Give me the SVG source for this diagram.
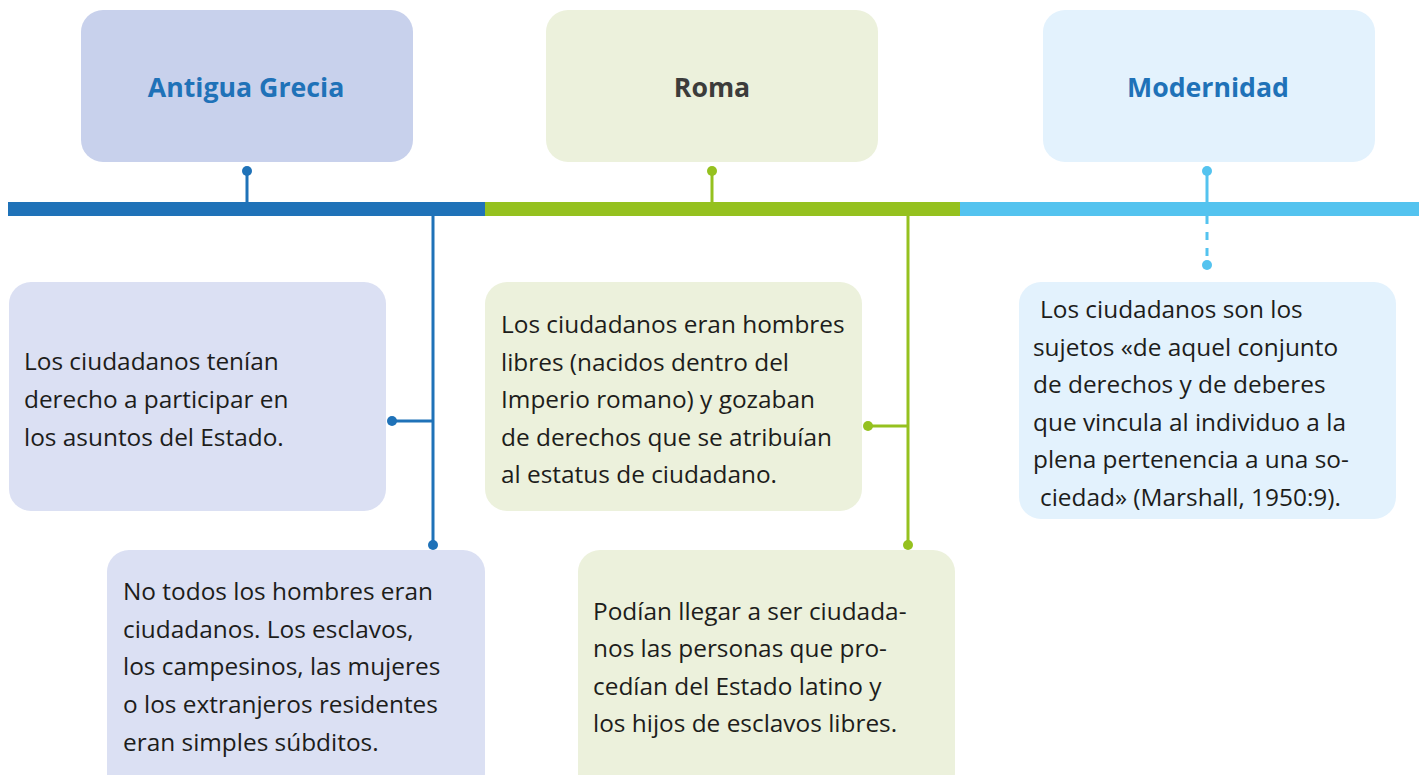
<svg xmlns="http://www.w3.org/2000/svg" width="1419" height="775" viewBox="0 0 1419 775">
<style>
.title{font-family:"Open Sans",Lato,sans-serif;font-weight:bold;font-size:26.7px;text-anchor:middle}
.body{font-family:"Open Sans",Lato,sans-serif;font-size:24.4px;fill:#1d1d1b}
.blue{fill:#1f72b8}
.dark{fill:#3c3c3b}
.cb{stroke:#1f72b8;stroke-width:3;fill:none}
.cg{stroke:#95c11f;stroke-width:3;fill:none}
.cl{stroke:#54c3ef;stroke-width:3;fill:none}
</style>
<rect width="1419" height="775" fill="#ffffff"/>
<g id="grecia">
<rect x="81" y="10" width="332" height="152" rx="22" fill="#c8d1ec"/>
<text class="title blue" x="246" y="97">Antigua Grecia</text>
</g>
<g id="roma">
<rect x="546" y="10" width="332" height="152" rx="22" fill="#ecf1dc"/>
<text class="title dark" x="712" y="97">Roma</text>
</g>
<g id="modernidad">
<rect x="1043" y="10" width="332" height="152" rx="22" fill="#e3f2fd"/>
<text class="title blue" x="1208" y="97">Modernidad</text>
</g>
<g id="timeline">
<rect x="8" y="202" width="477" height="14" fill="#1f72b8"/>
<rect x="485" y="202" width="475" height="14" fill="#95c11f"/>
<rect x="960" y="202" width="459" height="14" fill="#54c3ef"/>
</g>
<g id="grecia-1">
<rect x="9" y="282" width="377" height="229" rx="22" fill="#dbe0f3"/>
<text class="body" x="24" y="370">Los ciudadanos tenían</text>
<text class="body" x="24" y="408">derecho a participar en</text>
<text class="body" x="24" y="446">los asuntos del Estado.</text>
</g>
<g id="grecia-2">
<rect x="107" y="550" width="378" height="245" rx="22" fill="#dbe0f3"/>
<text class="body" x="123" y="600">No todos los hombres eran</text>
<text class="body" x="123" y="638">ciudadanos. Los esclavos,</text>
<text class="body" x="123" y="675">los campesinos, las mujeres</text>
<text class="body" x="123" y="713">o los extranjeros residentes</text>
<text class="body" x="123" y="751">eran simples súbditos.</text>
</g>
<g id="roma-1">
<rect x="485" y="282" width="377" height="229" rx="22" fill="#ecf1dc"/>
<text class="body" x="501" y="333">Los ciudadanos eran hombres</text>
<text class="body" x="501" y="371">libres (nacidos dentro del</text>
<text class="body" x="501" y="408">Imperio romano) y gozaban</text>
<text class="body" x="501" y="446">de derechos que se atribuían</text>
<text class="body" x="501" y="483">al estatus de ciudadano.</text>
</g>
<g id="roma-2">
<rect x="578" y="550" width="377" height="245" rx="22" fill="#ecf1dc"/>
<text class="body" x="593" y="620">Podían llegar a ser ciudada-</text>
<text class="body" x="593" y="657">nos las personas que pro-</text>
<text class="body" x="593" y="695">cedían del Estado latino y</text>
<text class="body" x="593" y="732">los hijos de esclavos libres.</text>
</g>
<g id="modernidad-1">
<rect x="1019" y="282" width="377" height="237" rx="22" fill="#e3f2fd"/>
<text class="body" x="1040" y="318">Los ciudadanos son los</text>
<text class="body" x="1033" y="356">sujetos «de aquel conjunto</text>
<text class="body" x="1033" y="393">de derechos y de deberes</text>
<text class="body" x="1033" y="431">que vincula al individuo a la</text>
<text class="body" x="1033" y="468">plena pertenencia a una so-</text>
<text class="body" x="1040" y="506">ciedad» (Marshall, 1950:9).</text>
</g>
<g id="connectors">
<line class="cb" x1="247" y1="171" x2="247" y2="202"/>
<circle cx="247" cy="171" r="5" fill="#1f72b8"/>
<line class="cg" x1="712" y1="171" x2="712" y2="202"/>
<circle cx="712" cy="171" r="5" fill="#95c11f"/>
<line class="cl" x1="1207" y1="171" x2="1207" y2="216"/>
<circle cx="1207" cy="171" r="5" fill="#54c3ef"/>
<line class="cl" x1="1207" y1="216" x2="1207" y2="265" stroke-dasharray="8,8"/>
<circle cx="1207" cy="265" r="5" fill="#54c3ef"/>
<line class="cb" x1="433" y1="216" x2="433" y2="545"/>
<line class="cb" x1="392" y1="421" x2="433" y2="421"/>
<circle cx="392" cy="421" r="5" fill="#1f72b8"/>
<circle cx="433" cy="545" r="5" fill="#1f72b8"/>
<line class="cg" x1="908" y1="216" x2="908" y2="545"/>
<line class="cg" x1="868" y1="426" x2="908" y2="426"/>
<circle cx="868" cy="426" r="5" fill="#95c11f"/>
<circle cx="908" cy="545" r="5" fill="#95c11f"/>
</g>
</svg>
